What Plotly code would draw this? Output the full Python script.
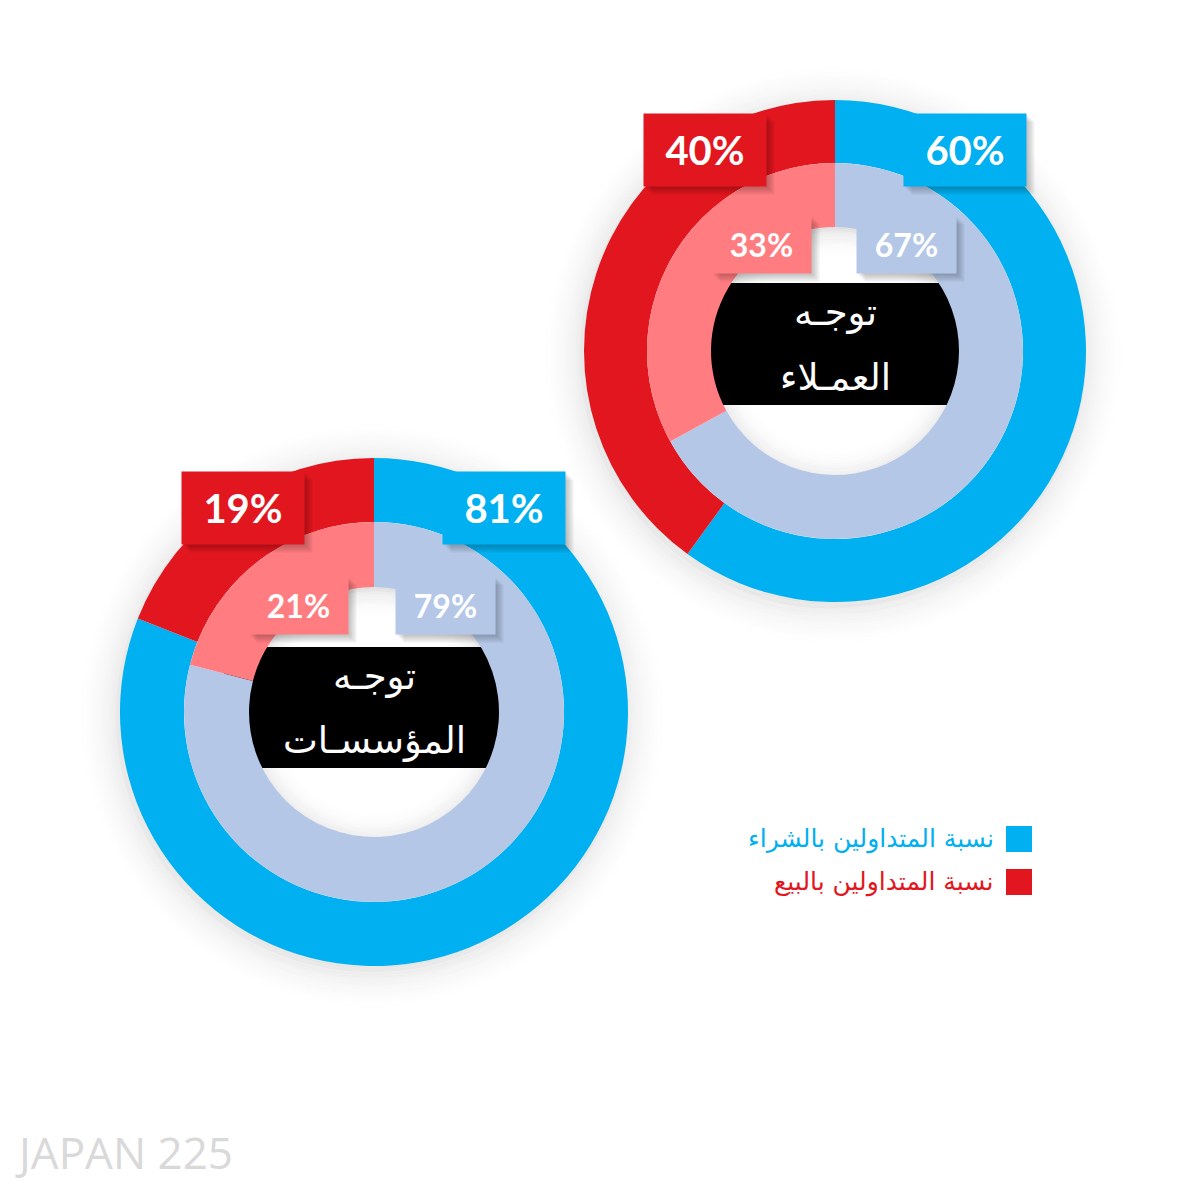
import plotly.graph_objects as go

# data
title_top = ["توجـه", "توجـه"]
title_bottom = ["العمـلاء", "المؤسسـات"]
buy_outer = [60, 81]
sell_outer = [40, 19]
buy_inner = [67, 79]
sell_inner = [33, 21]
series_names = ["نسبة المتداولين بالشراء", "نسبة المتداولين بالبيع"]
watermark = "JAPAN 225"

BLUE = "#00b0f0"
RED = "#e2161e"
LIGHT_BLUE = "#b4c7e7"
PINK = "#ff7c80"

W = H = 1181
OFF = 8  # page body margin


def px(x):
    return (x - OFF) / W


def py(y):
    return 1 - (y - OFF) / H


def dom(cx, cy, r):
    return {"x": [px(cx - r), px(cx + r)], "y": [py(cy + r), py(cy - r)]}


def ring(cx, cy, rr, color, width):
    return dict(type="circle", xref="paper", yref="paper", layer="below",
                x0=px(cx - rr), x1=px(cx + rr), y0=py(cy + rr), y1=py(cy - rr),
                line=dict(color=color, width=width), fillcolor="rgba(0,0,0,0)")


# layout of the two donuts: centre, outer radius, ring split, hole radius
donuts = [
    {"cx": 835, "cy": 351, "r": 251, "r_mid": 188, "r_hole": 124,
     "box_y": (283, 405), "lab_out": (965, 705, 150), "lab_in": (906, 761, 245)},
    {"cx": 374, "cy": 712, "r": 254, "r_mid": 190, "r_hole": 125,
     "box_y": (647, 768), "lab_out": (504, 243, 508), "lab_in": (445, 298, 605)},
]

fig = go.Figure()
shapes = []
annotations = []

# soft glows first (both donuts), then the black bands
for d in donuts:
    cx, cy = d["cx"], d["cy"]
    n = 18
    for k in range(n):
        a = 0.085 * (1 - k / n) ** 1.6 if k > 2 else 0.085
        shapes.append(ring(cx - 2, cy + 4, d["r"] - 4 + k * 2.5, f"rgba(0,0,0,{a:.4f})", 2.6))
    n = 12
    for k in range(n):
        a = 0.10 * (1 - k / n) ** 2 if k > 1 else 0.10
        shapes.append(ring(cx, cy + 3, d["r_hole"] + 3 - k * 2.8, f"rgba(0,0,0,{a:.4f})", 2.9))

for i, d in enumerate(donuts):
    cx, cy = d["cx"], d["cy"]
    y0, y1 = d["box_y"]
    # black title band, clipped by the inner ring drawn on top
    shapes.append(dict(
        type="rect", xref="paper", yref="paper", layer="below",
        x0=px(cx - 150), x1=px(cx + 150), y0=py(y1), y1=py(y0),
        fillcolor="black", line=dict(width=0)))

    fig.add_trace(go.Pie(
        values=[buy_outer[i], sell_outer[i]],
        labels=series_names,
        marker=dict(colors=[BLUE, RED], line=dict(width=0)),
        hole=d["r_mid"] / d["r"],
        sort=False, direction="clockwise", rotation=0,
        textinfo="none", hoverinfo="label+value", showlegend=False,
        domain=dom(cx, cy, d["r"])))
    fig.add_trace(go.Pie(
        values=[buy_inner[i], sell_inner[i]],
        labels=series_names,
        marker=dict(colors=[LIGHT_BLUE, PINK], line=dict(width=0)),
        hole=d["r_hole"] / d["r_mid"],
        sort=False, direction="clockwise", rotation=0,
        textinfo="none", hoverinfo="label+value", showlegend=False,
        domain=dom(cx, cy, d["r_mid"])))

    mid = (y0 + y1) / 2
    for txt, dy in [(title_top[i], -31), (title_bottom[i], 33)]:
        annotations.append(dict(
            x=px(cx), y=py(mid + dy), xref="paper", yref="paper",
            xanchor="center", yanchor="middle",
            text=txt, showarrow=False,
            font=dict(family="DejaVu Serif, DejaVu Sans", size=37, color="white")))

    # percentage boxes
    bx, sx, ly = d["lab_out"]
    ibx, isx, ily = d["lab_in"]
    boxes = [
        (bx, ly, 120, 70, buy_outer[i], BLUE, 40),
        (sx, ly, 120, 70, sell_outer[i], RED, 40),
        (ibx, ily, 97, 55, buy_inner[i], LIGHT_BLUE, 32),
        (isx, ily, 97, 55, sell_inner[i], PINK, 32),
    ]
    for x, y, w, h, v, col, fs in boxes:
        for k in range(4):
            annotations.append(dict(
                x=px(x), y=py(y), xref="paper", yref="paper",
                xanchor="center", yanchor="middle",
                xshift=2 + k * 2, yshift=-2 - k * 2,
                width=w, height=h, text=" ", showarrow=False,
                bgcolor="rgba(0,0,0,0.06)"))
        annotations.append(dict(
            x=px(x), y=py(y), xref="paper", yref="paper",
            xanchor="center", yanchor="middle",
            width=w, height=h, text=f"<b>{v}%</b>", showarrow=False,
            bgcolor=col, align="center",
            font=dict(family="Lato, Open Sans", size=fs, color="white")))

# legend (squares on the right of the text)
leg_y = [839, 882]
leg_col = [BLUE, RED]
for name, y, col in zip(series_names, leg_y, leg_col):
    shapes.append(dict(
        type="rect", xref="paper", yref="paper",
        x0=px(1006), x1=px(1032), y0=py(y + 13), y1=py(y - 13),
        fillcolor=col, line=dict(width=0)))
    annotations.append(dict(
        x=px(996), y=py(y), xref="paper", yref="paper",
        xanchor="right", yanchor="middle", text=name, showarrow=False,
        font=dict(family="DejaVu Sans", size=25, color=col)))

annotations.append(dict(
    x=px(13), y=py(1152), xref="paper", yref="paper",
    xanchor="left", yanchor="middle", text=watermark, showarrow=False,
    font=dict(family="Open Sans", size=44, color="#d9d9d9")))

fig.update_layout(
    width=W, height=H,
    margin=dict(l=0, r=0, t=0, b=0),
    paper_bgcolor="white",
    plot_bgcolor="white",
    shapes=shapes,
    annotations=annotations,
    showlegend=False,
)

fig.write_html("out.html")
